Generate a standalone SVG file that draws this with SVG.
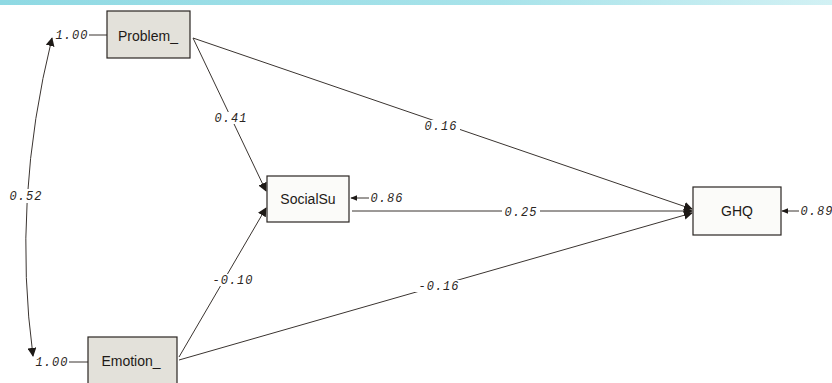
<svg xmlns="http://www.w3.org/2000/svg" width="832" height="383" viewBox="0 0 832 383">
<defs>
<linearGradient id="band" x1="0" y1="0" x2="1" y2="0">
<stop offset="0" stop-color="#8fd9e3"/>
<stop offset="0.6" stop-color="#a8e3ea"/>
<stop offset="1" stop-color="#d2f1f4"/>
</linearGradient>
<marker id="ah" viewBox="0 0 10 10" refX="9" refY="5" markerWidth="9" markerHeight="9" markerUnits="userSpaceOnUse" orient="auto-start-reverse">
<path d="M0,0 L10,5 L0,10 z" fill="#1e1a17"/>
</marker>
<marker id="sm" viewBox="0 0 10 10" refX="9" refY="5" markerWidth="7" markerHeight="7" markerUnits="userSpaceOnUse" orient="auto">
<path d="M0,1 L10,5 L0,9 z" fill="#1e1a17"/>
</marker>
<mask id="gaps" maskUnits="userSpaceOnUse" x="0" y="0" width="832" height="383">
<rect x="0" y="0" width="832" height="383" fill="#ffffff"/>
<rect x="10" y="189" width="34" height="14" fill="#000000"/>
<rect x="212" y="112" width="38" height="12" fill="#000000"/>
<rect x="209" y="274" width="48" height="12" fill="#000000"/>
<rect x="422" y="120" width="38" height="12" fill="#000000"/>
<rect x="415" y="280" width="48" height="12" fill="#000000"/>
<rect x="502" y="205" width="38" height="14" fill="#000000"/>
</mask>
</defs>
<style>
.box{stroke:#2a2522;stroke-width:1.2}
.grey{fill:#e3e1da}
.white{fill:#fbfbf9}
.nt{font-family:"Liberation Sans",Arial,sans-serif;font-size:14px;fill:#1e1a17;text-anchor:middle}
.ln{fill:none;stroke:#3a3430;stroke-width:1}
.lb{font-family:"Liberation Mono","Courier New",monospace;font-style:italic;font-size:12px;letter-spacing:1px;fill:#2a2522;text-anchor:middle}
</style>
<rect x="0" y="0" width="832" height="383" fill="#ffffff"/>
<rect x="0" y="0" width="832" height="5" fill="url(#band)"/>
<g id="connectors">
<g mask="url(#gaps)">
<path class="ln" d="M52,38 Q12,200 33,356" marker-start="url(#ah)" marker-end="url(#ah)"/>
<line class="ln" x1="193" y1="38" x2="266" y2="191" marker-end="url(#ah)"/>
<line class="ln" x1="179" y1="357" x2="266" y2="208" marker-end="url(#ah)"/>
<line class="ln" x1="193" y1="38" x2="692" y2="209" marker-end="url(#ah)"/>
<line class="ln" x1="352" y1="211" x2="692" y2="211" marker-end="url(#ah)"/>
<line class="ln" x1="179" y1="360" x2="692" y2="213" marker-end="url(#ah)"/>
</g>
<line class="ln" x1="89" y1="35" x2="107" y2="35"/>
<line class="ln" x1="69" y1="362" x2="88" y2="362"/>
<line class="ln" x1="369" y1="198" x2="351" y2="198" marker-end="url(#sm)"/>
<line class="ln" x1="799" y1="211" x2="782" y2="211" marker-end="url(#sm)"/>
<text class="lb" x="26" y="200">0.52</text>
<text class="lb" x="72" y="39">1.00</text>
<text class="lb" x="52" y="366">1.00</text>
<text class="lb" x="231" y="122">0.41</text>
<text class="lb" x="233" y="284">-0.10</text>
<text class="lb" x="441" y="130">0.16</text>
<text class="lb" x="439" y="290">-0.16</text>
<text class="lb" x="521" y="216">0.25</text>
<text class="lb" x="387" y="202">0.86</text>
<text class="lb" x="817" y="215">0.89</text>
</g>
<g id="problem">
<rect class="box grey" x="107" y="11" width="83" height="47"/>
<text class="nt" x="148" y="41">Problem_</text>
</g>
<g id="emotion">
<rect class="box grey" x="88" y="337" width="89" height="50"/>
<text class="nt" x="131" y="366">Emotion_</text>
</g>
<g id="socialsu">
<rect class="box white" x="267" y="176" width="82" height="46"/>
<text class="nt" x="308" y="204">SocialSu</text>
</g>
<g id="ghq">
<rect class="box white" x="693" y="187" width="88" height="48"/>
<text class="nt" x="737" y="216">GHQ</text>
</g>
</svg>
